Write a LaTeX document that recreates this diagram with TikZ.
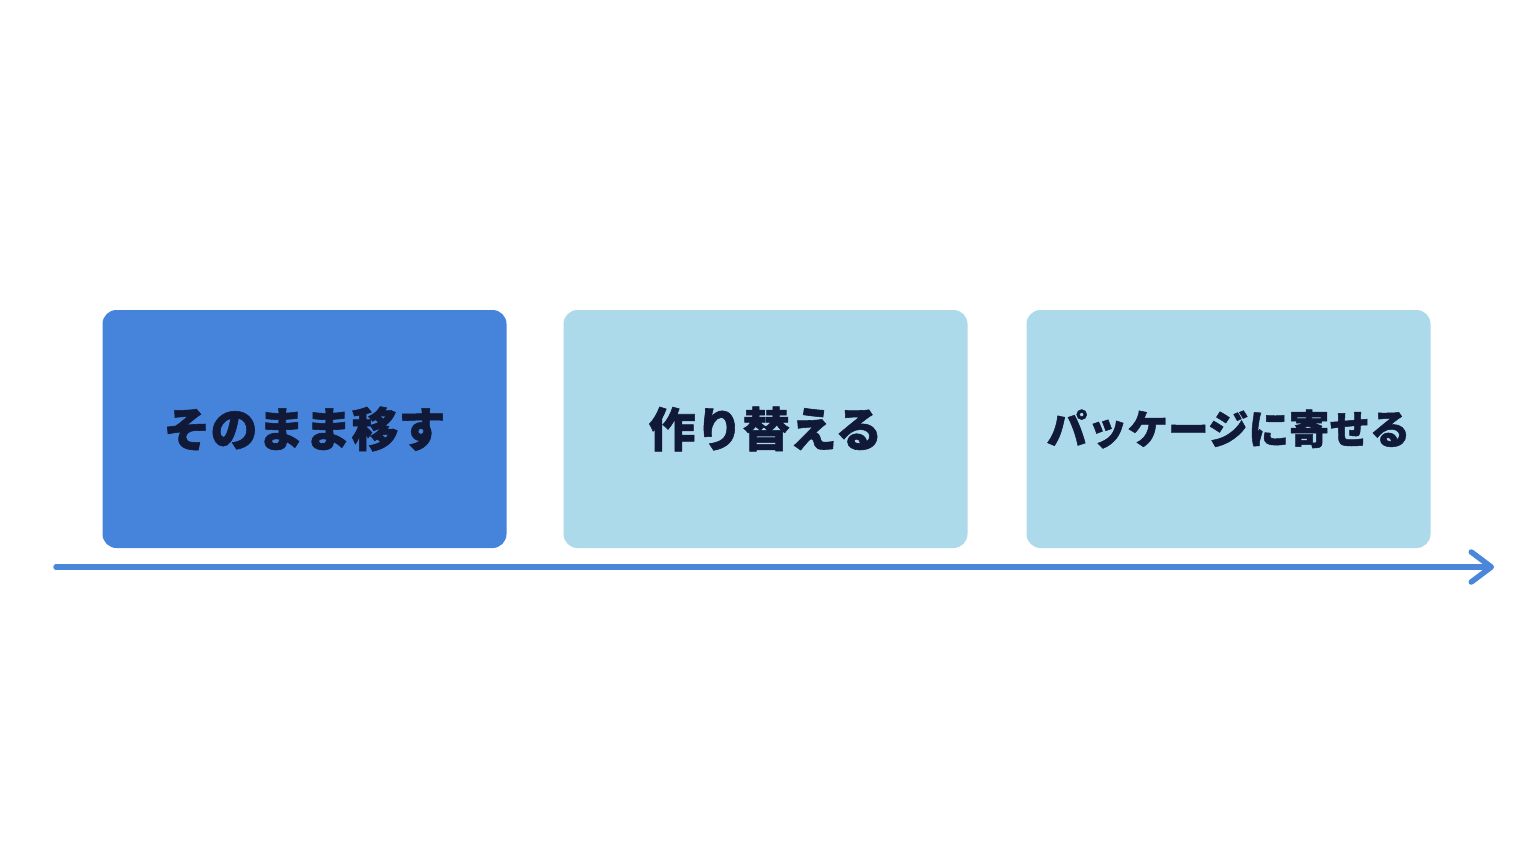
\documentclass[tikz,border=0pt]{standalone}
\usepackage{fontspec}
\newfontfamily\cjk[BoldFeatures={FakeBold=1.2}]{Noto Sans CJK JP}
\usetikzlibrary{arrows.meta}
\definecolor{dark}{HTML}{4684DC}
\definecolor{light}{HTML}{ADDAEA}
\definecolor{ink}{HTML}{101A38}
\definecolor{axis}{HTML}{4A86DA}
\tikzset{
  stage/.style={rounded corners=14pt, minimum width=404pt, minimum height=238pt, inner sep=0pt, text=ink, font=\cjk\bfseries\fontsize{47}{50}\selectfont},
  timeline/.style={draw=axis, line width=5.5pt, line cap=round, -{Straight Barb[length=20pt,width=30pt,line width=5.5pt,round]}}
}
\begin{document}
\begin{tikzpicture}[x=1pt,y=-1pt]
\useasboundingbox[fill=white] (0,0) rectangle (1536,864);
\node[stage, fill=dark] (s1) at (304.5,429) {そのまま移す};
\node[stage, fill=light] (s2) at (765.5,429) {作り替える};
\node[stage, fill=light, font=\cjk\bfseries\fontsize{40.5}{45}\selectfont] (s3) at (1228.5,429) {パッケージに寄せる};
\coordinate (a0) at (56,567);
\coordinate (a1) at (1494,567);
\draw[timeline] (a0) -- (a1);
\end{tikzpicture}
\end{document}
